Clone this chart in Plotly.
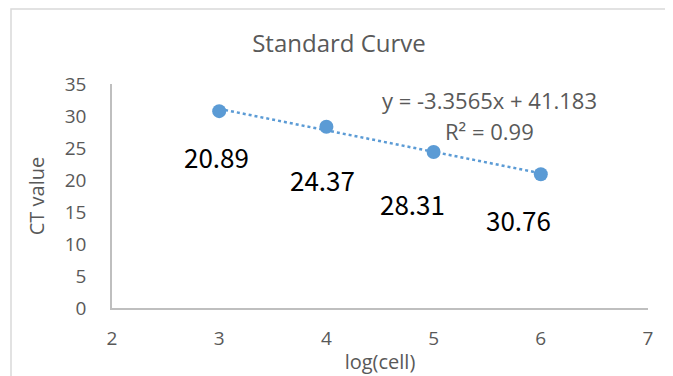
import numpy as np
import plotly.graph_objects as go

log_cell = [3, 4, 5, 6]
ct_value = [30.76, 28.31, 24.37, 20.89]
point_labels = ["20.89", "24.37", "28.31", "30.76"]
x_ticks = [2, 3, 4, 5, 6, 7]
y_ticks = [0, 5, 10, 15, 20, 25, 30, 35]

label_xshift = [-3, -4, -21, -22]
label_yshift = [-45, -53, -51, -45]

slope, intercept = np.polyfit(log_cell, ct_value, 1)
trend_x = [min(log_cell), max(log_cell)]
trend_y = [slope * v + intercept for v in trend_x]

blue = "#5B9BD5"
gray = "#595959"
font_fam = "'Open Sans', sans-serif"

W, H = 665, 368
ML, MR, MT, MB = 104, 25, 76, 68
PW, PH = W - ML - MR, H - MT - MB

fig = go.Figure()
fig.add_trace(go.Scatter(x=trend_x, y=trend_y, mode="lines",
                         line=dict(color=blue, width=2.5, dash="dot"),
                         hoverinfo="skip", showlegend=False))
fig.add_trace(go.Scatter(x=log_cell, y=ct_value, mode="markers",
                         marker=dict(color=blue, size=14), showlegend=False))

for xv, yv, txt, dx, dy in zip(log_cell, ct_value, point_labels, label_xshift, label_yshift):
    fig.add_annotation(x=xv, y=yv, text=txt, showarrow=False, xshift=dx, yshift=dy,
                       font=dict(family="'Noto Sans CJK SC', sans-serif", size=26, color="#000000"))

fig.add_annotation(x=5.52, y=32.5, xref="x", yref="y",
                   text="y = -3.3565x + 41.183", showarrow=False,
                   font=dict(family=font_fam, size=22, color=gray))
fig.add_annotation(x=5.52, y=27.6, xref="x", yref="y",
                   text="R² = 0.99", showarrow=False,
                   font=dict(family=font_fam, size=22, color=gray))

fig.add_shape(type="rect", xref="paper", yref="paper",
              x0=(3 - ML) / PW, x1=(659 - ML) / PW, y0=-1.0, y1=1 + (MT - 1) / PH,
              line=dict(color="#D9D9D9", width=1.5), fillcolor="rgba(0,0,0,0)", layer="below")

fig.update_layout(
    width=W, height=H,
    margin=dict(l=ML, r=MR, t=MT, b=MB, autoexpand=False),
    paper_bgcolor="white", plot_bgcolor="white",
    title=dict(text="Standard Curve", x=331 / W, xref="container", xanchor="center",
               y=1 - 36 / H, yanchor="middle",
               font=dict(family=font_fam, size=24, color=gray)),
    font=dict(family=font_fam, color=gray, size=19),
)
fig.update_xaxes(range=[2, 7], tickvals=x_ticks, showgrid=False, zeroline=False,
                 showline=True, linecolor="#BFBFBF", linewidth=1.5, ticks="",
                 ticklabelstandoff=12, automargin=False,
                 title=dict(text="log(cell)", standoff=5, font=dict(size=20, color=gray)),
                 tickfont=dict(size=19, color=gray))
fig.update_yaxes(range=[0, 35], tickvals=y_ticks, showgrid=False, zeroline=False,
                 showline=True, linecolor="#BFBFBF", linewidth=1.5, ticks="",
                 ticklabelstandoff=20, automargin=False,
                 title=dict(text="CT value", standoff=15, font=dict(size=20, color=gray)),
                 tickfont=dict(size=19, color=gray))

fig.write_html("out.html")
